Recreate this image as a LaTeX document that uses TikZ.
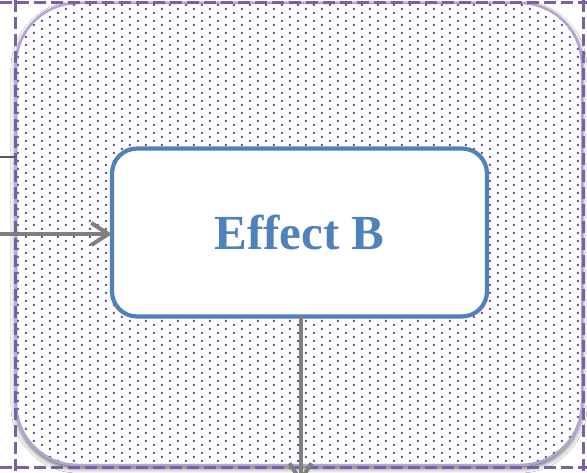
\documentclass[tikz,border=0pt]{standalone}
\usepackage{fontspec}
\setmainfont{Liberation Serif}
\usetikzlibrary{arrows.meta,shadows.blur}
\definecolor{dotc}{HTML}{7457A0}
\definecolor{framec}{HTML}{7A5FA3}
\definecolor{boxblue}{HTML}{4F81BD}
\definecolor{arrowgray}{HTML}{7F7F7F}
\definecolor{rimc}{HTML}{B3A5D2}
\begin{document}
\begin{tikzpicture}[x=1pt,y=-1pt,
  group/.style={draw=rimc, line width=2.5pt, rounded corners=62pt, fill=white,
    inner sep=0pt, outer sep=0pt, minimum width=566pt, minimum height=462pt,
    blur shadow={shadow xshift=0pt, shadow yshift=-3pt, shadow blur radius=5pt, shadow opacity=70}},
  effect/.style={draw=boxblue, line width=4.2pt, rounded corners=25pt, fill=white,
    inner sep=0pt, outer sep=0pt, minimum width=375pt, minimum height=168pt,
    text=boxblue, font=\fontsize{49}{58}\selectfont\bfseries},
  conn/.style={draw=arrowgray, line width=4pt, -{Straight Barb[length=17pt,width=22pt]}},
  thin/.style={draw=arrowgray!70!black, line width=1.5pt},
  frame/.style={draw=framec, line width=3pt, dash pattern=on 12pt off 5pt}
]
\useasboundingbox (0,0) rectangle (587,473);
\fill[white] (0,0) rectangle (587,473);
\node[group] (grp) at (299,234) {};
\begin{scope}
  \clip[rounded corners=62pt] (grp.north west) rectangle (grp.south east);
  \fill[dotc] \foreach \i in {0,...,36} {\foreach \j in {0,...,59}
      {(0.9+16*\i,-0.1+8*\j) rectangle ++(1.9,1.9) (8.9+16*\i,3.9+8*\j) rectangle ++(1.9,1.9)}};
\end{scope}
\draw[rimc, line width=2pt, rounded corners=62pt] (grp.north west) rectangle (grp.south east);
\node[effect] (eb) at (299.5,232.5) {Effect B};
% dashed frame lines
\draw[frame] (15,0) -- (15,473);
\draw[frame] (583,0) -- (583,473);
\draw[frame] (0,3) -- (587,3);
\draw[frame] (0,467) -- (587,467);
% thin line from the left
\coordinate (thinA) at (0,157);
\coordinate (thinB) at (15,157);
\draw[thin] (thinA) -- (thinB);
% arrows
\coordinate (inA) at (0,234);
\draw[conn] (inA) -- (inA -| eb.west);
\coordinate (outB) at (300.5,484);
\draw[conn] (eb.south -| outB) -- (outB);
\end{tikzpicture}
\end{document}
